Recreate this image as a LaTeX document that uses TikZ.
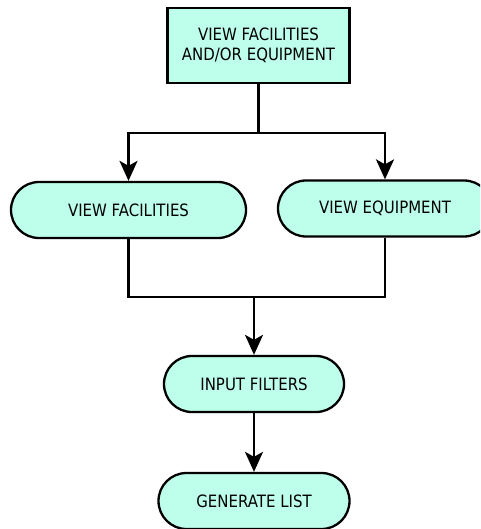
\documentclass[tikz,border=0pt]{standalone}
\usepackage{fontspec}
\setmainfont{DejaVu Sans}[FakeStretch=0.88]
\usetikzlibrary{arrows.meta}
\definecolor{boxfill}{RGB}{190,255,235}
\begin{document}
\begin{tikzpicture}[x=1pt,y=1pt,
  every node/.style={font=\fontsize{17}{20}\selectfont, align=center, inner sep=0pt},
  action/.style={draw=black, line width=2.3pt, fill=boxfill, rectangle},
  terminal/.style={action, rounded corners=28pt, minimum height=56pt},
  flow/.style={line width=2.3pt},
  arr/.style={flow, -{Stealth[length=20pt,width=18pt,inset=5pt]}}]
  \useasboundingbox (0,0) rectangle (480,-529);
  \begin{scope}
    \clip (0,0) rectangle (480,-529);
    % start box
    \node[action, minimum width=182pt, minimum height=75pt] (start) at (258.5,-45.5)
      {VIEW FACILITIES\\AND/OR EQUIPMENT};
    % the two views
    \node[terminal, minimum width=235pt] (fac) at (128.5,-210) {VIEW FACILITIES};
    \node[terminal, minimum width=214pt] (equ) at (385,-208.5) {VIEW EQUIPMENT};
    % filters and output
    \node[terminal, minimum width=180pt] (filt) at (254,-384) {INPUT FILTERS};
    \node[terminal, minimum width=191pt] (gen) at (254,-501) {GENERATE LIST};
    % branch and merge points
    \coordinate (split) at (258.5,-133);
    \coordinate (merge) at (254,-297);
    \draw[flow] (start.south) -- (split);
    \draw[arr] (split) -| (fac.north);
    \draw[arr] (split) -| (equ.north);
    \draw[flow] (fac.south) |- (merge);
    \draw[flow] (equ.south) |- (merge);
    \draw[arr] (merge) -- (filt.north);
    \draw[arr] (filt.south) -- (gen.north);
  \end{scope}
\end{tikzpicture}
\end{document}
